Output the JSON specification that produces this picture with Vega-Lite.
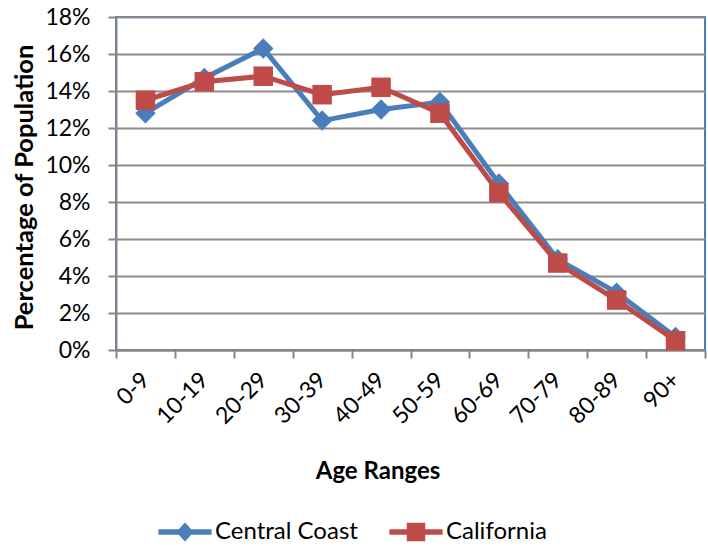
{
  "$schema": "https://vega.github.io/schema/vega-lite/v6.json",
  "width": 589,
  "height": 333,
  "autosize": "none",
  "padding": {"left": 116, "top": 17, "right": 3, "bottom": 196},
  "background": "white",
  "config": {
    "font": "Lato",
    "view": {"stroke": "#4a7ebb", "strokeWidth": 2},
    "axis": {
      "domainColor": "#868686", "domainWidth": 2,
      "tickColor": "#868686", "tickWidth": 2, "tickSize": 8,
      "gridColor": "#8c8c8c", "gridWidth": 2,
      "labelFont": "Lato", "labelFontSize": 23, "labelColor": "black",
      "titleFont": "Lato", "titleFontWeight": "bold", "titleColor": "black"
    }
  },
  "data": {
    "values": [
      {"age": "0-9", "series": "Central Coast", "pct": 0.128},
      {"age": "10-19", "series": "Central Coast", "pct": 0.147},
      {"age": "20-29", "series": "Central Coast", "pct": 0.163},
      {"age": "30-39", "series": "Central Coast", "pct": 0.124},
      {"age": "40-49", "series": "Central Coast", "pct": 0.130},
      {"age": "50-59", "series": "Central Coast", "pct": 0.134},
      {"age": "60-69", "series": "Central Coast", "pct": 0.090},
      {"age": "70-79", "series": "Central Coast", "pct": 0.049},
      {"age": "80-89", "series": "Central Coast", "pct": 0.031},
      {"age": "90+", "series": "Central Coast", "pct": 0.007},
      {"age": "0-9", "series": "California", "pct": 0.135},
      {"age": "10-19", "series": "California", "pct": 0.145},
      {"age": "20-29", "series": "California", "pct": 0.148},
      {"age": "30-39", "series": "California", "pct": 0.138},
      {"age": "40-49", "series": "California", "pct": 0.142},
      {"age": "50-59", "series": "California", "pct": 0.128},
      {"age": "60-69", "series": "California", "pct": 0.085},
      {"age": "70-79", "series": "California", "pct": 0.047},
      {"age": "80-89", "series": "California", "pct": 0.027},
      {"age": "90+", "series": "California", "pct": 0.005}
    ]
  },
  "encoding": {
    "x": {
      "field": "age", "type": "nominal", "sort": null,
      "scale": {"type": "band", "paddingInner": 0, "paddingOuter": 0},
      "axis": {
        "title": "Age Ranges", "grid": false, "tickBand": "extent",
        "labelAngle": -45, "labelAlign": "right", "labelBaseline": "middle",
        "labelPadding": 18,
        "titleFontSize": 24, "titleX": 261.5, "titleY": 128,
        "titleAlign": "center", "titleBaseline": "alphabetic", "titleAnchor": null
      }
    },
    "y": {
      "field": "pct", "type": "quantitative",
      "scale": {"domain": [0, 0.18], "nice": false},
      "axis": {
        "title": "Percentage of Population", "format": ".0%",
        "values": [0, 0.02, 0.04, 0.06, 0.08, 0.1, 0.12, 0.14, 0.16, 0.18],
        "labelPadding": 18,
        "titleFontSize": 25.5, "titleX": -84, "titleY": 170, "titleAngle": 270,
        "titleAlign": "center", "titleBaseline": "alphabetic", "titleAnchor": null
      }
    },
    "color": {
      "field": "series", "type": "nominal",
      "scale": {"domain": ["Central Coast", "California"], "range": ["#4a7ebb", "#be4b48"]},
      "legend": {
        "title": null, "orient": "none", "direction": "horizontal",
        "legendX": 41, "legendY": 487, "padding": 0,
        "labelFontSize": 24, "labelFont": "Lato", "labelColor": "black",
        "labelOffset": 2, "columnPadding": 30,
        "symbolSize": 3136, "symbolStrokeWidth": 0,
        "encode": {
          "symbols": {
            "update": {
              "shape": {"signal": "datum.value === 'Central Coast' ? 'M-0.95,-0.1 L0.95,-0.1 L0.95,0.1 L-0.95,0.1 Z M0,-0.34 L0.31,0 L0,0.34 L-0.31,0 Z' : 'M-0.95,-0.1 L0.95,-0.1 L0.95,0.1 L-0.95,0.1 Z M-0.33,-0.33 L0.33,-0.33 L0.33,0.33 L-0.33,0.33 Z'"},
              "fill": {"signal": "datum.value === 'Central Coast' ? '#4a7ebb' : '#be4b48'"},
              "strokeWidth": {"value": 0},
              "opacity": {"value": 1}
            }
          }
        }
      }
    }
  },
  "layer": [
    {
      "transform": [{"filter": "datum.series === 'Central Coast'"}],
      "mark": {"type": "line", "strokeWidth": 5}
    },
    {
      "transform": [{"filter": "datum.series === 'Central Coast'"}],
      "mark": {"type": "point", "shape": "diamond", "size": 420, "filled": true, "opacity": 1}
    },
    {
      "transform": [{"filter": "datum.series === 'California'"}],
      "mark": {"type": "line", "strokeWidth": 5}
    },
    {
      "transform": [{"filter": "datum.series === 'California'"}],
      "mark": {"type": "point", "shape": "square", "size": 380, "filled": true, "opacity": 1}
    }
  ]
}
